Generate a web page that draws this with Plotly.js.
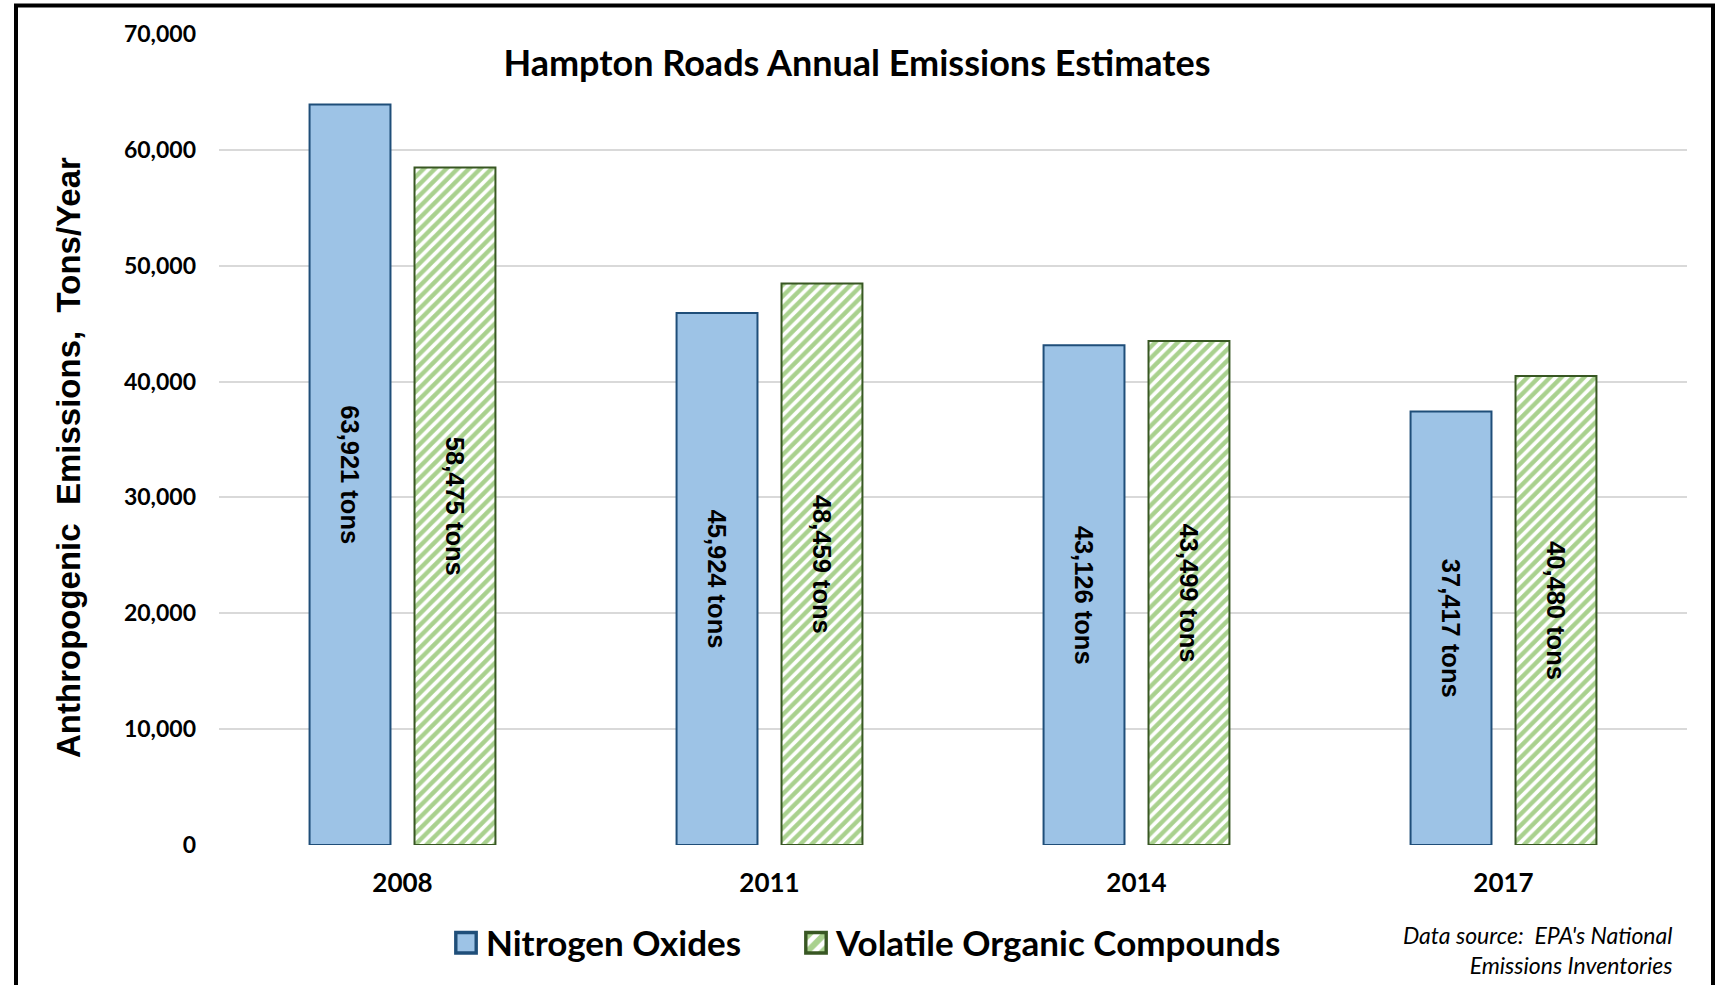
<!DOCTYPE html>
<html>
<head>
<meta charset="utf-8">
<script src="https://cdn.plot.ly/plotly-3.0.1.min.js"></script>
<style>
html,body{margin:0;padding:0;background:#fff;}
#chart{width:1723px;height:985px;}
</style>
</head>
<body>
<div id="chart"></div>
<script>
const years = ['2008', '2011', '2014', '2017'];
const nitrogenOxides = [63921, 45924, 43126, 37417];
const volatileOrganic = [58475, 48459, 43499, 40480];
const seriesNames = ['Nitrogen Oxides', 'Volatile Organic Compounds'];
const yTicks = [0, 10000, 20000, 30000, 40000, 50000, 60000, 70000];

const W = 1723, H = 985;
const L = 219, R = 1687, T = 34, B = 845;
const px = x => (x - L) / (R - L);
const py = y => (B - y) / (B - T);

const labelFont = {family: 'Liberation Sans, Arial, sans-serif', size: 25.5, color: '#000', weight: 'bold'};
const legendFont = {family: 'Lato, sans-serif', size: 35, color: '#000', weight: 'bold'};

const traces = [
  {
    type: 'bar', name: seriesNames[0], x: years, y: nitrogenOxides, legend: 'legend',
    marker: {color: '#9DC3E6', line: {color: '#1F4E79', width: 2}},
    texttemplate: '%{y:,} tons', textposition: 'inside', insidetextanchor: 'middle',
    textangle: 90, textfont: labelFont, constraintext: 'none', hoverinfo: 'skip'
  },
  {
    type: 'bar', name: seriesNames[1], x: years, y: volatileOrganic, legend: 'legend2',
    marker: {color: '#A9D18E', line: {color: '#385723', width: 2},
      pattern: {shape: '/', fgcolor: '#A9D18E', bgcolor: '#FFFFFF', size: 8, solidity: 0.55, fillmode: 'replace'}},
    texttemplate: '%{y:,} tons', textposition: 'inside', insidetextanchor: 'middle',
    textangle: 90, textfont: labelFont, constraintext: 'none', hoverinfo: 'skip'
  }
];

const layout = {
  width: W, height: H,
  margin: {l: L, r: W - R, t: T, b: H - B, pad: 0},
  paper_bgcolor: '#fff', plot_bgcolor: '#fff',
  barmode: 'group', bargap: 0.428, bargroupgap: 0.229,
  font: {family: 'Lato, sans-serif', color: '#000'},
  title: {
    text: '<b>Hampton Roads Annual Emissions Estimates</b>',
    font: {family: 'Lato, sans-serif', size: 36, color: '#000'},
    x: 857 / W, xref: 'container', xanchor: 'center',
    y: 1 - 63 / H, yref: 'container', yanchor: 'middle'
  },
  xaxis: {
    type: 'category', showgrid: false, zeroline: false, showline: false, ticks: '',
    tickfont: {family: 'Lato, sans-serif', size: 26, color: '#000', weight: 'bold'},
    ticklabelstandoff: 20
  },
  yaxis: {
    range: [0, 70000], tickvals: yTicks, tickformat: ',', showgrid: true,
    gridcolor: '#D9D9D9', gridwidth: 2, zeroline: false, showline: false, ticks: '',
    tickfont: {family: 'Lato, sans-serif', size: 23, color: '#000', weight: 'bold'},
    ticklabelstandoff: 22
  },
  showlegend: true,
  legend: {
    orientation: 'h', x: px(446), xanchor: 'left', y: py(943), yanchor: 'middle',
    font: legendFont, bgcolor: 'rgba(0,0,0,0)', itemclick: false, itemdoubleclick: false
  },
  legend2: {
    orientation: 'h', x: px(796), xanchor: 'left', y: py(943), yanchor: 'middle',
    font: legendFont, bgcolor: 'rgba(0,0,0,0)', itemclick: false, itemdoubleclick: false
  },
  annotations: [
    {
      text: '<b>Anthropogenic\u00a0 Emissions,\u00a0 Tons/Year</b>',
      xref: 'paper', yref: 'paper', x: px(68), y: py(458),
      xanchor: 'center', yanchor: 'middle', textangle: -90, showarrow: false,
      font: {family: 'Liberation Sans, Arial, sans-serif', size: 33, color: '#000'}
    },
    {
      text: "<i>Data source:\u00a0 EPA's National<br>Emissions Inventories</i>",
      xref: 'paper', yref: 'paper', x: px(1674), y: py(950),
      xanchor: 'right', yanchor: 'middle', align: 'right', showarrow: false,
      font: {family: 'Lato, sans-serif', size: 23, color: '#000'}
    }
  ],
  shapes: [
    {
      type: 'path', xref: 'paper', yref: 'paper',
      path: 'M ' + px(16) + ' ' + py(1000) + ' L ' + px(16) + ' ' + py(5.5) +
            ' L ' + px(1713) + ' ' + py(5.5) + ' L ' + px(1713) + ' ' + py(1000),
      line: {color: '#000', width: 4}
    }
  ]
};

Plotly.newPlot('chart', traces, layout, {staticPlot: true, displayModeBar: false}).then(gd => {
  gd.querySelectorAll('.legendpoints path').forEach(p => {
    const t = p.getAttribute('transform') || '';
    p.setAttribute('transform', t + ' scale(1.7)');
  });
});
</script>
</body>
</html>
